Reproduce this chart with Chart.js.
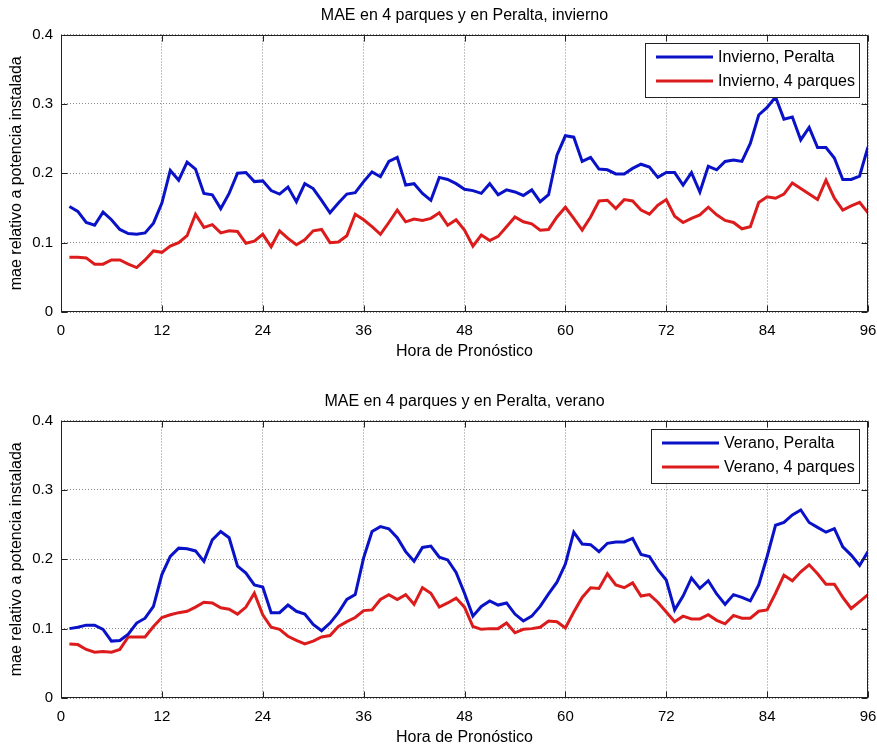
<!DOCTYPE html>
<html>
<head>
<meta charset="utf-8">
<script src="https://cdn.jsdelivr.net/npm/chart.js@4"></script>
<style>
  body { margin: 0; background: #fff; }
  .plot { position: absolute; left: 0; width: 877px; height: 361px; }
</style>
</head>
<body>
<div class="plot" style="top: 0px"><canvas id="invierno" width="877" height="361"></canvas></div>
<div class="plot" style="top: 386px"><canvas id="verano" width="877" height="361"></canvas></div>
<script>
const hours = [
  1, 2, 3, 4, 5, 6, 7, 8, 9, 10, 11, 12, 13, 14, 15, 16, 17, 18, 19, 20, 21, 22, 23, 24,
  25, 26, 27, 28, 29, 30, 31, 32, 33, 34, 35, 36, 37, 38, 39, 40, 41, 42, 43, 44, 45, 46, 47, 48,
  49, 50, 51, 52, 53, 54, 55, 56, 57, 58, 59, 60, 61, 62, 63, 64, 65, 66, 67, 68, 69, 70, 71, 72,
  73, 74, 75, 76, 77, 78, 79, 80, 81, 82, 83, 84, 85, 86, 87, 88, 89, 90, 91, 92, 93, 94, 95, 96
]

const inviernoPeralta = [
  0.152, 0.145, 0.129, 0.125, 0.144, 0.133, 0.119, 0.113, 0.112, 0.114, 0.128, 0.157,
  0.204, 0.190, 0.216, 0.206, 0.171, 0.169, 0.149, 0.171, 0.200, 0.201, 0.188, 0.189,
  0.175, 0.170, 0.180, 0.159, 0.185, 0.178, 0.161, 0.143, 0.157, 0.170, 0.172, 0.188,
  0.202, 0.195, 0.217, 0.223, 0.183, 0.185, 0.171, 0.161, 0.194, 0.191, 0.185, 0.177,
  0.175, 0.171, 0.185, 0.169, 0.176, 0.173, 0.168, 0.176, 0.159, 0.169, 0.226, 0.254,
  0.252, 0.217, 0.223, 0.206, 0.205, 0.199, 0.199, 0.207, 0.213, 0.209, 0.194, 0.201,
  0.201, 0.183, 0.201, 0.173, 0.210, 0.205, 0.217, 0.219, 0.217, 0.243, 0.284, 0.295,
  0.310, 0.278, 0.281, 0.248, 0.266, 0.237, 0.237, 0.222, 0.191, 0.191, 0.196, 0.238
]
const invierno4Parques = [
  0.079, 0.079, 0.078, 0.069, 0.069, 0.075, 0.075, 0.069, 0.064, 0.075, 0.088, 0.086,
  0.095, 0.100, 0.110, 0.141, 0.122, 0.126, 0.114, 0.117, 0.116, 0.099, 0.102, 0.112,
  0.094, 0.117, 0.106, 0.097, 0.104, 0.117, 0.119, 0.100, 0.101, 0.110, 0.141, 0.133,
  0.123, 0.112, 0.129, 0.147, 0.130, 0.134, 0.132, 0.135, 0.143, 0.125, 0.133, 0.118,
  0.095, 0.111, 0.103, 0.109, 0.123, 0.137, 0.130, 0.127, 0.118, 0.119, 0.137, 0.151,
  0.135, 0.118, 0.137, 0.160, 0.161, 0.149, 0.162, 0.160, 0.147, 0.141, 0.154, 0.162,
  0.138, 0.129, 0.135, 0.140, 0.151, 0.140, 0.132, 0.129, 0.120, 0.123, 0.158, 0.166,
  0.164, 0.170, 0.186, 0.178, 0.170, 0.162, 0.190, 0.164, 0.147, 0.153, 0.158, 0.143
]
const veranoPeralta = [
  0.100, 0.102, 0.105, 0.105, 0.099, 0.082, 0.083, 0.092, 0.108, 0.115, 0.132, 0.178,
  0.204, 0.216, 0.215, 0.212, 0.197, 0.228, 0.240, 0.231, 0.190, 0.180, 0.163, 0.160,
  0.123, 0.123, 0.134, 0.125, 0.121, 0.106, 0.097, 0.108, 0.123, 0.142, 0.149, 0.202,
  0.240, 0.247, 0.244, 0.231, 0.211, 0.197, 0.217, 0.219, 0.203, 0.199, 0.181, 0.151,
  0.118, 0.132, 0.140, 0.134, 0.137, 0.121, 0.111, 0.118, 0.132, 0.150, 0.167, 0.193,
  0.239, 0.222, 0.221, 0.211, 0.223, 0.225, 0.225, 0.230, 0.207, 0.204, 0.185, 0.170,
  0.127, 0.147, 0.173, 0.158, 0.169, 0.150, 0.135, 0.149, 0.145, 0.140, 0.163, 0.204,
  0.249, 0.253, 0.264, 0.271, 0.253, 0.246, 0.239, 0.244, 0.218, 0.206, 0.191, 0.211
]
const verano4Parques = [
  0.078, 0.077, 0.070, 0.066, 0.067, 0.066, 0.070, 0.088, 0.088, 0.088, 0.103, 0.116,
  0.120, 0.123, 0.125, 0.131, 0.138, 0.137, 0.130, 0.128, 0.121, 0.131, 0.151, 0.120,
  0.102, 0.099, 0.089, 0.083, 0.078, 0.082, 0.088, 0.090, 0.103, 0.110, 0.116, 0.126,
  0.127, 0.142, 0.149, 0.142, 0.149, 0.135, 0.159, 0.151, 0.131, 0.137, 0.144, 0.131,
  0.103, 0.099, 0.100, 0.100, 0.108, 0.094, 0.099, 0.100, 0.102, 0.111, 0.110, 0.101,
  0.124, 0.145, 0.159, 0.158, 0.179, 0.163, 0.159, 0.166, 0.147, 0.149, 0.138, 0.124,
  0.110, 0.118, 0.114, 0.114, 0.120, 0.112, 0.107, 0.119, 0.115, 0.115, 0.125, 0.127,
  0.151, 0.177, 0.169, 0.182, 0.192, 0.179, 0.164, 0.164, 0.145, 0.129, 0.139, 0.149
]

const xTicks = [0, 12, 24, 36, 48, 60, 72, 84, 96]
const yTicks = [0, 0.1, 0.2, 0.3, 0.4]

const FONT = '"Liberation Sans", Arial, Helvetica, sans-serif'
const BLUE = '#0a12c8'
const RED = '#dc1c1c'

// box round the axes with small ticks pointing inwards (matlab look)
const axesBox = {
  id: 'axesBox',
  afterDatasetsDraw(chart) {
    const { ctx, chartArea: a, scales } = chart
    const l = Math.round(a.left) + 0.5, r = Math.round(a.right) - 0.5
    const t = Math.round(a.top) + 0.5, b = Math.round(a.bottom) - 0.5
    ctx.save()
    ctx.strokeStyle = '#222'
    ctx.lineWidth = 1
    ctx.beginPath()
    xTicks.forEach(v => {
      const px = Math.round(scales.x.getPixelForValue(v)) + 0.5
      ctx.moveTo(px, b); ctx.lineTo(px, b - 6)
      ctx.moveTo(px, t); ctx.lineTo(px, t + 6)
    })
    yTicks.forEach(v => {
      const py = Math.round(scales.y.getPixelForValue(v)) + 0.5
      ctx.moveTo(l, py); ctx.lineTo(l + 6, py)
      ctx.moveTo(r, py); ctx.lineTo(r - 6, py)
    })
    ctx.stroke()
    ctx.strokeRect(l, t, r - l, b - t)
    ctx.restore()
  }
}

// legend in a white box, top right inside the axes
const legendBox = {
  id: 'legendBox',
  afterDatasetsDraw(chart) {
    const { ctx, chartArea } = chart
    const sets = chart.data.datasets
    ctx.save()
    ctx.font = '16px ' + FONT
    const textW = Math.max(...sets.map(d => ctx.measureText(d.label).width))
    const w = Math.round(11 + 57 + 5 + textW + 4)
    const right = Math.round(chartArea.right) - 9
    const top = Math.round(chartArea.top) + 8
    const left = right - w
    ctx.fillStyle = '#fff'
    ctx.fillRect(left, top, w, 54)
    ctx.strokeStyle = '#222'
    ctx.lineWidth = 1
    ctx.strokeRect(left + 0.5, top + 0.5, w, 54)
    sets.forEach((d, i) => {
      const y = top + 14 + i * 24
      ctx.strokeStyle = d.borderColor
      ctx.lineWidth = 3
      ctx.beginPath()
      ctx.moveTo(left + 11, y)
      ctx.lineTo(left + 68, y)
      ctx.stroke()
      ctx.fillStyle = '#000'
      ctx.textBaseline = 'middle'
      ctx.fillText(d.label, left + 73, y + 1)
    })
    ctx.restore()
  }
}

function series(values) {
  return values.map((v, i) => ({ x: hours[i], y: v }))
}

function makeChart(id, title, labels, peralta, parques) {
  return new Chart(document.getElementById(id), {
    type: 'line',
    data: {
      datasets: [
        { label: labels[0], data: series(peralta), borderColor: BLUE, borderWidth: 3, pointRadius: 0, tension: 0 },
        { label: labels[1], data: series(parques), borderColor: RED, borderWidth: 3, pointRadius: 0, tension: 0 }
      ]
    },
    options: {
      responsive: false,
      animation: false,
      devicePixelRatio: 1,
      layout: { padding: { left: 0, right: 9, top: 0, bottom: 0 } },
      plugins: {
        legend: { display: false },
        tooltip: { enabled: false }
      },
      scales: {
        x: {
          type: 'linear',
          min: 0,
          max: 96,
          afterFit: s => {
            s.height = 49
            // the end labels fit in the margins already
            s.paddingLeft = 0
            s.paddingRight = 0
          },
          ticks: { stepSize: 12, padding: 10, color: '#000', font: { family: FONT, size: 15 } },
          grid: { color: '#8a8a8a', drawTicks: false },
          border: { display: false, dash: [1, 2] },
          title: {
            display: true,
            text: 'Hora de Pronóstico',
            color: '#000',
            font: { family: FONT, size: 16, lineHeight: 1 },
            padding: { top: 0, bottom: 1 }
          }
        },
        top: {
          type: 'linear',
          position: 'top',
          min: 0,
          max: 96,
          afterFit: s => { s.height = 34.5 },
          ticks: { display: false },
          grid: { display: false },
          border: { display: false },
          title: {
            display: true,
            text: title,
            color: '#000',
            font: { family: FONT, size: 16, lineHeight: 1 },
            padding: { top: 8, bottom: 0 }
          }
        },
        y: {
          min: 0,
          max: 0.4,
          afterFit: s => { s.width = 61 },
          ticks: { stepSize: 0.1, padding: 8, color: '#000', font: { family: FONT, size: 15 } },
          grid: { color: '#8a8a8a', drawTicks: false },
          border: { display: false, dash: [1, 2] },
          title: {
            display: true,
            text: 'mae relativo a potencia instalada',
            color: '#000',
            font: { family: FONT, size: 16, lineHeight: 1 },
            padding: { top: 9, bottom: 0 }
          }
        }
      }
    },
    plugins: [axesBox, legendBox]
  })
}

makeChart('invierno', 'MAE en 4 parques y en Peralta, invierno',
  ['Invierno, Peralta', 'Invierno, 4 parques'], inviernoPeralta, invierno4Parques)
makeChart('verano', 'MAE en 4 parques y en Peralta, verano',
  ['Verano, Peralta', 'Verano, 4 parques'], veranoPeralta, verano4Parques)
</script>
</body>
</html>
